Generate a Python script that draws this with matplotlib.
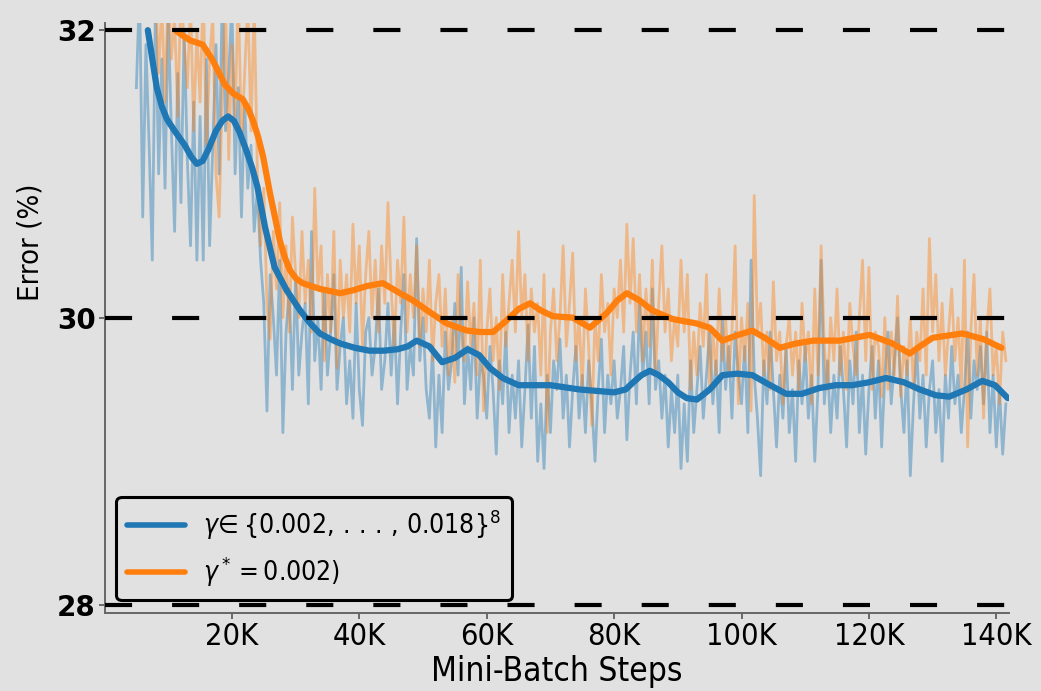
import numpy as np
import matplotlib
matplotlib.use("Agg")
import matplotlib.pyplot as plt

plt.rcParams['font.family'] = 'DejaVu Sans'
plt.rcParams['font.stretch'] = 'condensed'
plt.rcParams['mathtext.fontset'] = 'dejavusans'

# raw error curves, one value every 500 steps
blue_start, orange_start, step = 5000, 8000, 500
blue_raw = [
    31.6, 32.3, 30.7, 31.9, 31.2, 30.4, 32.2, 31.0, 31.8, 30.9,
    32.1, 31.3, 30.6, 31.7, 30.8, 32.0, 31.1, 30.5, 31.5, 30.4,
    31.4, 30.4, 31.8, 30.5, 31.2, 31.9, 31.0, 32.3, 31.3, 31.7,
    32.2, 31.0, 31.6, 30.7, 31.5, 30.9, 31.2, 30.6, 30.9, 30.4,
    30.1, 29.35, 30.3, 30.0, 29.6, 30.4, 29.2, 29.9, 30.2, 29.5,
    30.3, 29.6, 29.9, 30.1, 29.4, 30.6, 29.7, 30.0, 29.5, 30.2,
    29.6, 29.9, 30.3, 29.5, 29.8, 30.0, 29.4, 29.7, 29.3, 30.1,
    29.5, 29.25, 29.9, 30.0, 29.6, 29.8, 30.2, 29.5, 29.7, 30.1,
    29.6, 30.0, 29.4, 29.9, 30.3, 29.5, 29.8, 29.6, 30.55, 29.7,
    30.0, 29.5, 29.3, 29.8, 29.1, 29.6, 29.2, 29.9, 29.5, 29.7,
    30.1, 29.6, 30.35, 29.4, 29.8, 29.5, 30.0, 29.3, 29.7, 29.6,
    29.3, 29.8, 29.5, 29.05, 29.7, 29.4, 29.9, 29.2, 29.6, 29.3,
    29.7, 29.1, 29.5, 29.95, 29.3, 29.8, 29.0, 29.4, 28.95, 29.6,
    29.2, 29.7, 29.5, 29.85, 29.3, 29.6, 29.1, 29.5, 29.8, 29.3,
    29.6, 29.2, 29.7, 29.4, 29.0, 29.5, 29.85, 29.2, 29.6, 29.4,
    29.7, 29.3, 29.5, 29.8, 29.15, 29.6, 29.9, 29.4, 30.1, 29.6,
    29.9, 29.4, 30.2, 29.5, 29.7, 29.3, 29.6, 29.1, 29.5, 29.2,
    29.6, 28.95, 29.4, 29.0, 29.7, 29.2, 29.5, 29.8, 29.3, 29.6,
    29.9, 29.4, 29.7, 29.2, 30.0, 29.5, 29.8, 29.3, 29.9, 29.6,
    29.4, 29.8, 29.2, 30.4, 29.6, 29.3, 28.9, 29.7, 29.4, 29.9,
    29.5, 29.1, 29.6, 29.3, 29.8, 29.2, 29.5, 29.0, 29.7, 29.4,
    29.8, 29.3, 29.6, 29.0, 29.5, 30.4, 29.4, 29.7, 29.2, 29.6,
    29.3, 29.8, 29.5, 29.1, 29.7, 29.4, 29.9, 29.2, 29.6, 29.05,
    29.5, 29.8, 29.3, 29.7, 29.1, 29.6, 29.9, 29.4, 29.7, 30.0,
    29.5, 29.2, 29.7, 28.9, 29.4, 29.8, 29.3, 29.6, 29.1, 29.5,
    29.7, 29.2, 29.5, 29.0, 29.6, 29.3, 29.8, 29.4, 29.6, 29.2,
    29.5, 29.9, 29.3, 29.7, 29.5, 29.8, 29.4, 29.9, 29.2, 29.6,
    29.1, 29.5, 29.05, 29.4,
]
orange_raw = [
    32.3, 31.7, 32.2, 31.5, 32.3, 31.8, 32.1, 31.4, 32.3, 31.9,
    31.6, 32.2, 31.3, 32.0, 31.5, 32.3, 31.2, 31.8, 32.1, 31.0,
    30.7, 31.6, 32.2, 31.1, 31.9, 31.4, 32.3, 31.2, 31.7, 32.2,
    31.3, 32.2, 31.0, 30.5, 30.9, 30.1, 29.85, 30.6, 30.2, 30.8,
    30.0, 30.5, 29.9, 30.7, 30.3, 30.0, 30.6, 30.1, 30.4, 29.9,
    30.9, 30.2, 30.5, 29.7, 30.3, 29.9, 30.6, 29.65, 30.4, 30.0,
    30.3, 29.9, 30.65, 30.1, 30.5, 29.8, 30.3, 30.6, 30.0, 30.4,
    29.9, 30.5, 30.1, 30.8, 30.2, 29.8, 30.4, 30.1, 30.7, 29.9,
    30.3, 30.0, 30.5, 29.8, 30.2, 29.9, 30.4, 29.7, 30.1, 30.3,
    29.8, 30.2, 29.6, 30.0, 29.55, 30.3, 29.9, 29.7, 30.25, 29.8,
    30.1, 29.6, 30.4, 29.35, 29.9, 30.2, 29.7, 30.0, 29.5, 30.3,
    29.8, 30.1, 30.4, 29.9, 30.6, 30.0, 30.3, 29.7, 30.2, 29.9,
    30.1, 29.6, 30.3, 29.2, 29.9, 30.2, 29.7, 30.0, 30.5, 29.8,
    30.1, 30.45, 29.7, 30.0, 29.5, 30.2, 29.8, 29.25, 30.0, 29.7,
    30.3, 29.9, 30.1, 29.6, 30.2, 30.0, 30.4, 29.9, 30.65, 30.1,
    30.55, 29.9, 30.3, 29.7, 30.2, 29.8, 30.4, 29.6, 30.1, 30.5,
    29.9, 30.2, 29.7, 30.0, 29.8, 30.4, 29.9, 30.3, 29.5, 29.9,
    29.6, 30.1, 29.8, 30.3, 29.5, 29.9, 29.6, 30.2, 29.7, 30.0,
    29.6, 29.9, 30.5, 29.4, 30.0, 29.7, 30.1, 29.35, 30.85, 29.9,
    30.1, 29.6, 29.9, 29.5, 30.25, 29.7, 29.9, 29.4, 29.8, 30.0,
    29.6, 29.9, 29.5, 30.1, 29.7, 29.9, 29.4, 30.2, 29.6, 30.5,
    29.8, 29.5, 30.0, 29.7, 30.2, 29.6, 29.9, 29.5, 30.1, 29.8,
    29.6, 30.0, 30.4, 29.7, 30.35, 29.5, 29.9, 29.8, 29.45, 30.0,
    29.5, 29.9, 29.6, 30.15, 29.45, 29.8, 29.6, 30.0, 29.5, 29.9,
    29.7, 30.2, 29.6, 30.55, 29.9, 30.3, 29.7, 30.1, 29.6, 29.9,
    30.2, 29.7, 30.0, 29.5, 30.4, 29.1, 29.9, 30.3, 29.6, 30.0,
    29.3, 29.9, 30.2, 29.6, 29.8, 29.4, 29.9, 29.7,
]

# smoothed curves (steps in K)
blue_smooth_k = [6.8, 7.5, 8.2, 9.0, 9.8, 11, 12.6, 13.6, 14.5, 15.4,
                 16.3, 17.5, 18.5, 19.4, 20.3, 21.2, 22.2, 23.2, 24, 25.2,
                 26.7, 28.6, 30.7, 32.3, 33.8, 35.5, 37, 39.3, 41.6, 43.8,
                 46, 47.6, 49, 51, 53, 55, 57, 58.8, 60.5, 62.5,
                 65, 70, 74.6, 80, 81.8, 83, 84.3, 85.6, 87, 88.5,
                 90, 91.4, 93, 95, 97, 99.3, 101.7, 104.5, 107, 109.5,
                 112.2, 114.8, 117.4, 120, 122.7, 125.5, 128, 130.5, 132.6, 135.3,
                 137.8, 139.8, 141.8]
blue_smooth = [32.0, 31.8, 31.6, 31.47, 31.38, 31.30, 31.2, 31.12, 31.07, 31.09,
               31.17, 31.3, 31.37, 31.4, 31.37, 31.29, 31.17, 31.04, 30.91, 30.63,
               30.35, 30.19, 30.05, 29.96, 29.89, 29.85, 29.82, 29.79, 29.77, 29.77,
               29.78, 29.8, 29.84, 29.8, 29.69, 29.72, 29.78, 29.74, 29.65, 29.58,
               29.53, 29.53, 29.5, 29.48, 29.5, 29.55, 29.6, 29.63, 29.6, 29.55,
               29.48, 29.44, 29.43, 29.5, 29.6, 29.61, 29.6, 29.53, 29.47, 29.47,
               29.51, 29.53, 29.53, 29.55, 29.58, 29.55, 29.5, 29.46, 29.45, 29.5,
               29.56, 29.53, 29.44]
orange_smooth_k = [11.4, 13.4, 15.4, 17, 18.9, 20.2, 21.7, 22.6, 23.3, 24.1,
                   24.9, 26, 26.8, 27.5, 28.3, 29.1, 30.1, 31.1, 33.8, 37,
                   39, 41.2, 43.7, 46.4, 48.4, 51, 53.7, 56.9, 59, 61,
                   63.1, 65, 66.8, 68.5, 70.4, 73.5, 76.2, 78.8, 80.5, 82,
                   84, 86, 89.2, 92.9, 95, 97, 99.5, 101.7, 104, 106,
                   108.5, 111.3, 115.4, 120.1, 123.7, 126.4, 128, 130, 134.7, 138,
                   140.8]
orange_smooth = [31.99, 31.93, 31.9, 31.79, 31.62, 31.56, 31.52, 31.45, 31.37, 31.26,
                 31.12, 30.86, 30.69, 30.54, 30.42, 30.33, 30.27, 30.24, 30.2, 30.17,
                 30.19, 30.22, 30.24, 30.17, 30.12, 30.04, 29.96, 29.91, 29.9, 29.9,
                 29.98, 30.06, 30.1, 30.05, 30.01, 30.0, 29.93, 30.03, 30.12, 30.17,
                 30.12, 30.05, 29.99, 29.96, 29.93, 29.84, 29.88, 29.91, 29.85, 29.79,
                 29.82, 29.84, 29.84, 29.88, 29.82, 29.75, 29.8, 29.86, 29.89, 29.85,
                 29.79]

labels = [r'$\gamma\!\in\{0.002,\,.\,.\,.\,,\,0.018\}^8$', r'$\gamma^*=0.002)$']
xticks = [20000, 40000, 60000, 80000, 100000, 120000, 140000]
xticklabels = ["20K", "40K", "60K", "80K", "100K", "120K", "140K"]
yticks = [28, 30, 32]

blue_x = blue_start + step * np.arange(len(blue_raw))
orange_x = orange_start + step * np.arange(len(orange_raw))

bg = '#e1e1e1'
fig = plt.figure(figsize=(10.41, 6.91), dpi=100, facecolor=bg)
ax = fig.add_axes([0.1004, 0.1129, 0.8689, 0.8538], facecolor=bg)

ax.plot(blue_x, blue_raw, color='tab:blue', alpha=0.42, lw=2, zorder=1)
ax.plot(orange_x, orange_raw, color='tab:orange', alpha=0.42, lw=2, zorder=1)
ax.plot(np.array(blue_smooth_k) * 1000, blue_smooth, color='tab:blue', lw=4.5,
        solid_capstyle='round', solid_joinstyle='round', zorder=2, label=labels[0])
ax.plot(np.array(orange_smooth_k) * 1000, orange_smooth, color='tab:orange', lw=4.5,
        solid_capstyle='round', solid_joinstyle='round', zorder=2, label=labels[1])

for yv in yticks:
    ax.axhline(yv, color='black', lw=3, dashes=(6.5, 9.6), zorder=3)

ax.set_xlim(0, 142000)
ax.set_ylim(27.945, 32.05)
ax.set_xticks(xticks)
ax.set_xticklabels(xticklabels, fontsize=22)
ax.set_yticks(yticks)
ax.set_yticklabels([str(v) for v in yticks], fontsize=20, fontweight='bold',
                   fontstretch='normal')
ax.tick_params(length=4, width=1.2, color='#555555', pad=2.5)

for s in ['top', 'right']:
    ax.spines[s].set_visible(False)
for s in ['left', 'bottom']:
    ax.spines[s].set_color('#666666')
    ax.spines[s].set_linewidth(1.4)

ax.set_xlabel('Mini-Batch Steps', fontsize=24)
ax.xaxis.set_label_coords(0.5, -0.071)
ax.set_ylabel('Error (%)', fontsize=21)
ax.yaxis.set_label_coords(-0.066, 0.629)

leg = ax.legend(loc='lower left', bbox_to_anchor=(0.013, 0.022), borderaxespad=0,
                fontsize=19, handlelength=2.2, handletextpad=0.7, framealpha=1,
                facecolor=bg, edgecolor='black', fancybox=True)
leg.get_frame().set_linewidth(2.2)
for line in leg.get_lines():
    line.set_linewidth(4)

fig.savefig('out.png', dpi=100, facecolor=bg)
